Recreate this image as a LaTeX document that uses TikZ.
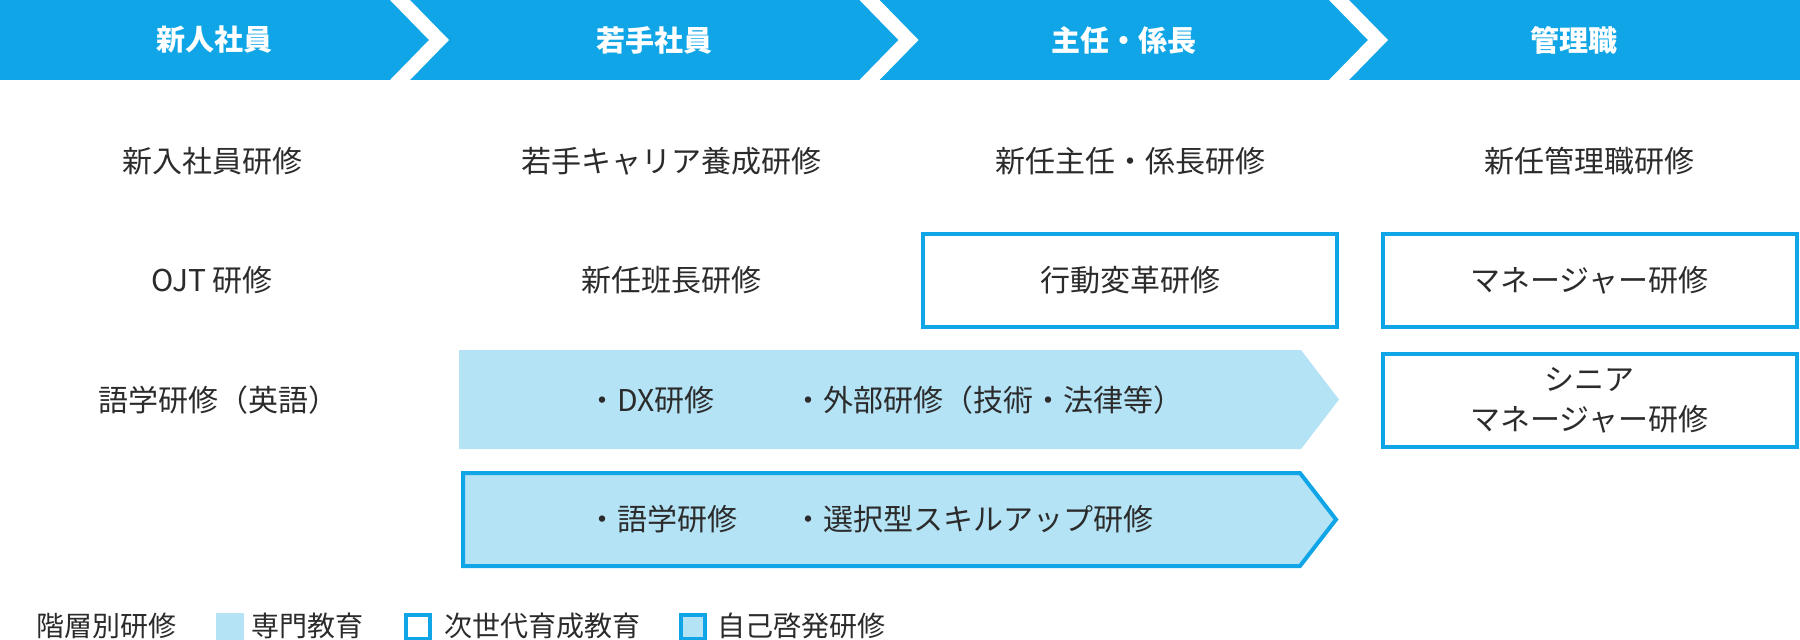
\documentclass[tikz,border=0pt]{standalone}
\usepackage{fontspec}
\setmainfont{Noto Sans CJK JP}
\definecolor{headblue}{HTML}{10A5E6}
\definecolor{paleblue}{HTML}{B5E3F6}
\definecolor{inkgray}{HTML}{2B2B2B}

\begin{document}
\begin{tikzpicture}[x=1pt, y=-1pt,
        head/.style={font=\fontsize{29}{34}\selectfont\bfseries, text=white, inner sep=0pt},
        course/.style={font=\fontsize{30}{40}\selectfont, text=inkgray, inner sep=0pt, align=center},
        nextbox/.style={course, draw=headblue, line width=4pt, minimum width=414pt, minimum height=93pt},
        item/.style={course, anchor=west},
        legtext/.style={font=\fontsize{28}{32}\selectfont, text=inkgray, inner sep=0pt, anchor=west},
        legbox/.style={minimum size=24pt, inner sep=0pt, anchor=north west, line width=4pt}]
        \useasboundingbox (0,0) rectangle (1800,640);

        \fill[headblue] (0,0) rectangle (1800,80);
        \foreach \x in {400,869.5,1339}
            \draw[white, line width=14.3pt] (\x-9.75,-10) -- (\x+39,40) -- (\x-9.75,90);
        \node[head] (new) at (214.5,40) {新人社員};
        \node[head] (young) at (654,40) {若手社員};
        \node[head] (chief) at (1124,40) {主任・係長};
        \node[head] (mgr) at (1574,40) {管理職};

        \node[course] (c11) at (212,161) {新入社員研修};
        \node[course] (c12) at (671,161) {若手キャリア養成研修};
        \node[course] (c13) at (1130,161) {新任主任・係長研修};
        \node[course] (c14) at (1589.5,161) {新任管理職研修};

        \node[course] (c21) at (212,280.5) {OJT 研修};
        \node[course] (c22) at (671,280.5) {新任班長研修};
        \node[nextbox] (c23) at (1130,280.5) {行動変革研修};
        \node[nextbox] (c24) at (1589.5,280.5) {マネージャー研修};

        \node[course] (c31) at (218,400) {語学研修（英語）};
        \node[nextbox] (c34) at (1589.5,400) {シニア\\マネージャー研修};

        \fill[paleblue] (459,350) -- (1301,350) -- (1339,399.5) -- (1301,449) -- (459,449) -- cycle;
        \node[item] (dx) at (587,400) {・DX研修};
        \node[item] (ext) at (793,400) {・外部研修（技術・法律等）};

        \filldraw[fill=paleblue, draw=headblue, line width=4pt] (463,473) -- (1300,473) -- (1336,519.5) -- (1300,566) -- (463,566) -- cycle;
        \node[item] (lang) at (587,519.5) {・語学研修};
        \node[item] (skill) at (793,519.5) {・選択型スキルアップ研修};

        \node[legtext] (lg0) at (36,626) {階層別研修};
        \node[legbox, fill=paleblue, minimum size=28pt] (sq1) at (214,611) {};
        \node[legtext] (lg1) at (251,626) {専門教育};
        \node[legbox, draw=headblue, fill=white] (sq2) at (404,613) {};
        \node[legtext] (lg2) at (444,626) {次世代育成教育};
        \node[legbox, draw=headblue, fill=paleblue] (sq3) at (679,613) {};
        \node[legtext] (lg3) at (717,626) {自己啓発研修};
    \end{tikzpicture}
\end{document}
